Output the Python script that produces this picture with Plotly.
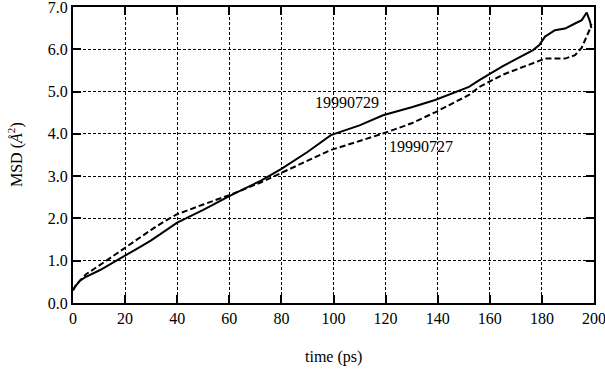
import plotly.graph_objects as go

# Series 19990729 (solid)
x_729 = [0, 1, 2.7, 5, 10.4, 15, 20, 25, 30, 40, 50, 60, 72, 80, 90, 99, 110, 119, 130, 139, 152, 156, 165, 176.6, 179, 181.2, 185, 188.9, 192.7, 195.3, 197.2, 198.5, 199]
y_729 = [0.3, 0.4, 0.53, 0.62, 0.78, 0.95, 1.12, 1.3, 1.48, 1.9, 2.2, 2.53, 2.89, 3.17, 3.57, 3.97, 4.2, 4.44, 4.63, 4.8, 5.11, 5.27, 5.6, 5.98, 6.1, 6.3, 6.45, 6.49, 6.61, 6.69, 6.87, 6.65, 6.5]

# Series 19990727 (dashed)
x_727 = [0, 1, 2.7, 5, 10.4, 15, 20, 25, 30, 35, 40, 50, 60, 72, 80, 90, 99, 110, 119, 130, 139, 152, 156, 165, 176.6, 181.2, 188.9, 192.7, 195.3, 197.2, 198.5, 199]
y_727 = [0.3, 0.42, 0.53, 0.68, 0.9, 1.1, 1.3, 1.52, 1.73, 1.93, 2.1, 2.33, 2.55, 2.85, 3.08, 3.35, 3.62, 3.83, 4.01, 4.25, 4.51, 4.92, 5.11, 5.4, 5.67, 5.78, 5.78, 5.86, 6.04, 6.3, 6.49, 6.6]

x_ticks = [0, 20, 40, 60, 80, 100, 120, 140, 160, 180, 200]
y_ticks = [0, 1, 2, 3, 4, 5, 6, 7]
y_ticktext = ["0.0", "1.0", "2.0", "3.0", "4.0", "5.0", "6.0", "7.0"]

FONT = "Liberation Serif"
FS = 16

fig = go.Figure()
fig.add_trace(go.Scatter(x=x_729, y=y_729, mode="lines",
                         line=dict(color="black", width=2), showlegend=False))
fig.add_trace(go.Scatter(x=x_727, y=y_727, mode="lines",
                         line=dict(color="black", width=2, dash="6px,3px"), showlegend=False))

fig.add_annotation(x=105.2, y=4.73, text="19990729", showarrow=False,
                   font=dict(family=FONT, size=FS, color="black"))
fig.add_annotation(x=133.6, y=3.71, text="19990727", showarrow=False,
                   font=dict(family=FONT, size=FS, color="black"))

# Axis titles
fig.add_annotation(x=0.5, y=0, xref="paper", yref="paper", yanchor="middle", yshift=-54,
                   text="time (ps)", showarrow=False,
                   font=dict(family=FONT, size=FS, color="black"))
fig.add_annotation(x=0, y=0.5, xref="paper", yref="paper", xanchor="center", xshift=-58,
                   text="MSD (<i>Å</i><sup>2</sup>)", textangle=-90, showarrow=False,
                   font=dict(family=FONT, size=FS, color="black"))

axis_common = dict(showline=True, linecolor="black", linewidth=2, mirror="ticks",
                   ticks="inside", ticklen=8, tickwidth=2, tickcolor="black",
                   showgrid=True, gridcolor="black", gridwidth=1, griddash="3px,2px",
                   zeroline=False, automargin=False, ticklabeloverflow="allow",
                   tickfont=dict(family=FONT, size=FS, color="black"))

fig.update_xaxes(range=[0, 200], tickvals=x_ticks, **axis_common)
fig.update_yaxes(range=[0, 7], tickvals=y_ticks, ticktext=y_ticktext, **axis_common)

fig.update_layout(width=605, height=371, margin=dict(l=73, r=11, t=7, b=68, autoexpand=False),
                  plot_bgcolor="white", paper_bgcolor="white",
                  font=dict(family=FONT, size=FS, color="black"))

fig.write_html("out.html", config={"displayModeBar": False},
               post_script="document.body.style.margin='0';document.body.style.padding='0';document.documentElement.style.margin='0';")
